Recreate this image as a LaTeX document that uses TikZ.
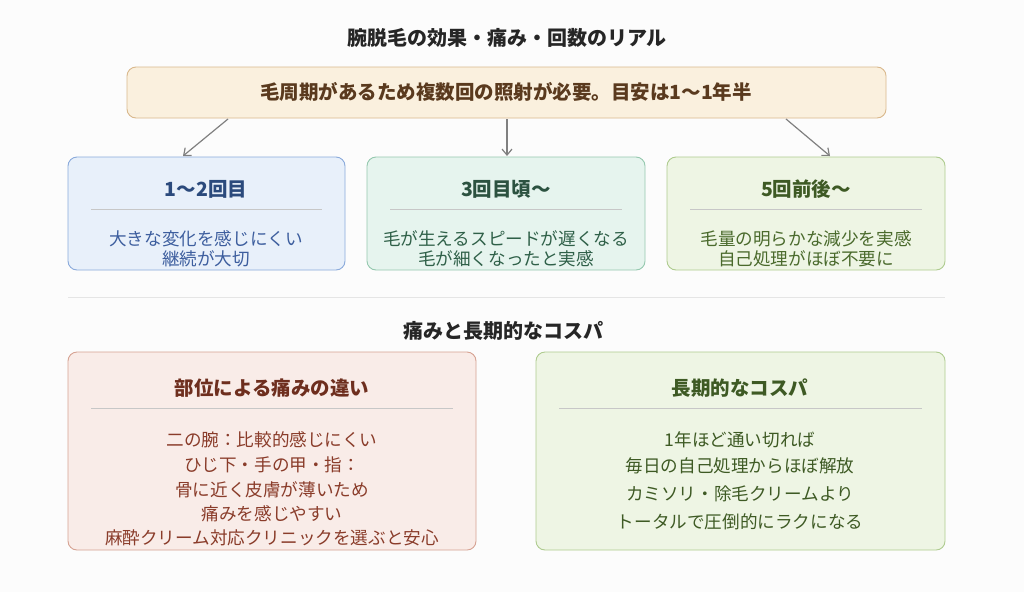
\documentclass[tikz,border=0pt]{standalone}
\usepackage{fontspec}
\setmainfont{Noto Sans CJK JP}
\usetikzlibrary{arrows.meta}
\definecolor{bg}{HTML}{FCFCFC}
\definecolor{c0d}{HTML}{D9B88C}\definecolor{c0f}{HTML}{FAF0DE}\definecolor{c0t}{HTML}{5A3A1E}
\definecolor{c1d}{HTML}{8AAADB}\definecolor{c1f}{HTML}{E8F0FA}\definecolor{c1h}{HTML}{2B4A7C}\definecolor{c1t}{HTML}{3D5E9E}
\definecolor{c2d}{HTML}{94C8AE}\definecolor{c2f}{HTML}{E6F4EE}\definecolor{c2h}{HTML}{2C5240}\definecolor{c2t}{HTML}{2F6048}
\definecolor{c3d}{HTML}{AECB8E}\definecolor{c3f}{HTML}{EEF5E4}\definecolor{c3h}{HTML}{3E5A24}\definecolor{c3t}{HTML}{4A6A2C}
\definecolor{c4d}{HTML}{D6A292}\definecolor{c4f}{HTML}{F9ECE8}\definecolor{c4h}{HTML}{6E2E1E}\definecolor{c4t}{HTML}{8A3C2A}
\begin{document}
\begin{tikzpicture}[x=1pt,y=-1pt,
 box/.style={draw=#1,rounded corners=9pt,line width=0.9pt},
 ttl/.style={font=\fontsize{19.5}{19.5}\selectfont\bfseries,text=#1},
 txt/.style={font=\fontsize{17.6}{17.6}\selectfont,text=#1},
 sec/.style={font=\fontsize{20}{20}\selectfont\bfseries,text=black!85},
 sep/.style={draw=black!22,line width=0.8pt},
 arr/.style={draw=black!50,line width=1.2pt,-{Straight Barb[length=6pt,width=10pt]}}]
\fill[bg] (0,0) rectangle (1024,592);
\useasboundingbox (0,0) rectangle (1024,592);
\node[sec] (t1) at (507,38) {腕脱毛の効果・痛み・回数のリアル};
\draw[box=c0d,fill=c0f] (127,67) rectangle (886,118);
\node[ttl=c0t] (top) at (506,92) {毛周期があるため複数回の照射が必要。目安は1〜1年半};
\coordinate (a1) at (228,119); \coordinate (a2) at (507,119); \coordinate (a3) at (786,119);
\coordinate (b1) at (183,156); \coordinate (b2) at (507,156); \coordinate (b3) at (830,156);
\draw[arr] (a1)--(b1); \draw[arr] (a2)--(b2); \draw[arr] (a3)--(b3);
% box1
\draw[box=c1d,fill=c1f] (68,157) rectangle (345,270);
\node[ttl=c1h] (h1) at (206,189) {1〜2回目};
\draw[sep] (91,209)--(322,209);
\node[txt=c1t] (s1a) at (206,239) {大きな変化を感じにくい};
\node[txt=c1t] (s1b) at (206,259) {継続が大切};
% box2
\draw[box=c2d,fill=c2f] (367,157) rectangle (645,270);
\node[ttl=c2h] (h2) at (506,189) {3回目頃〜};
\draw[sep] (390,209)--(622,209);
\node[txt=c2t] (s2a) at (506,239) {毛が生えるスピードが遅くなる};
\node[txt=c2t] (s2b) at (506,259) {毛が細くなったと実感};
% box3
\draw[box=c3d,fill=c3f] (667,157) rectangle (945,270);
\node[ttl=c3h] (h3) at (806,189) {5回前後〜};
\draw[sep] (690,209)--(922,209);
\node[txt=c3t] (s3a) at (806,239) {毛量の明らかな減少を実感};
\node[txt=c3t] (s3b) at (806,259) {自己処理がほぼ不要に};
\draw[draw=black!10,line width=0.8pt] (68,297)--(945,297);
\node[sec] (t2) at (503,331) {痛みと長期的なコスパ};
% box4
\draw[box=c4d,fill=c4f] (68,352) rectangle (476,550);
\node[ttl=c4h] (h4) at (272,388) {部位による痛みの違い};
\draw[sep] (91,408)--(453,408);
\node[txt=c4t] (p1) at (272,440) {二の腕：比較的感じにくい};
\node[txt=c4t] (p2) at (272,465) {ひじ下・手の甲・指：};
\node[txt=c4t] (p3) at (272,490) {骨に近く皮膚が薄いため};
\node[txt=c4t] (p4) at (272,514) {痛みを感じやすい};
\node[txt=c4t] (p5) at (272,538) {麻酔クリーム対応クリニックを選ぶと安心};
% box5
\draw[box=c3d,fill=c3f] (536,352) rectangle (945,550);
\node[ttl=c3h] (h5) at (740,388) {長期的なコスパ};
\draw[sep] (559,408)--(922,408);
\node[txt=c3h] (q1) at (740,440) {1年ほど通い切れば};
\node[txt=c3h] (q2) at (740,466) {毎日の自己処理からほぼ解放};
\node[txt=c3h] (q3) at (740,494) {カミソリ・除毛クリームより};
\node[txt=c3h] (q4) at (740,522) {トータルで圧倒的にラクになる};
\end{tikzpicture}
\end{document}
